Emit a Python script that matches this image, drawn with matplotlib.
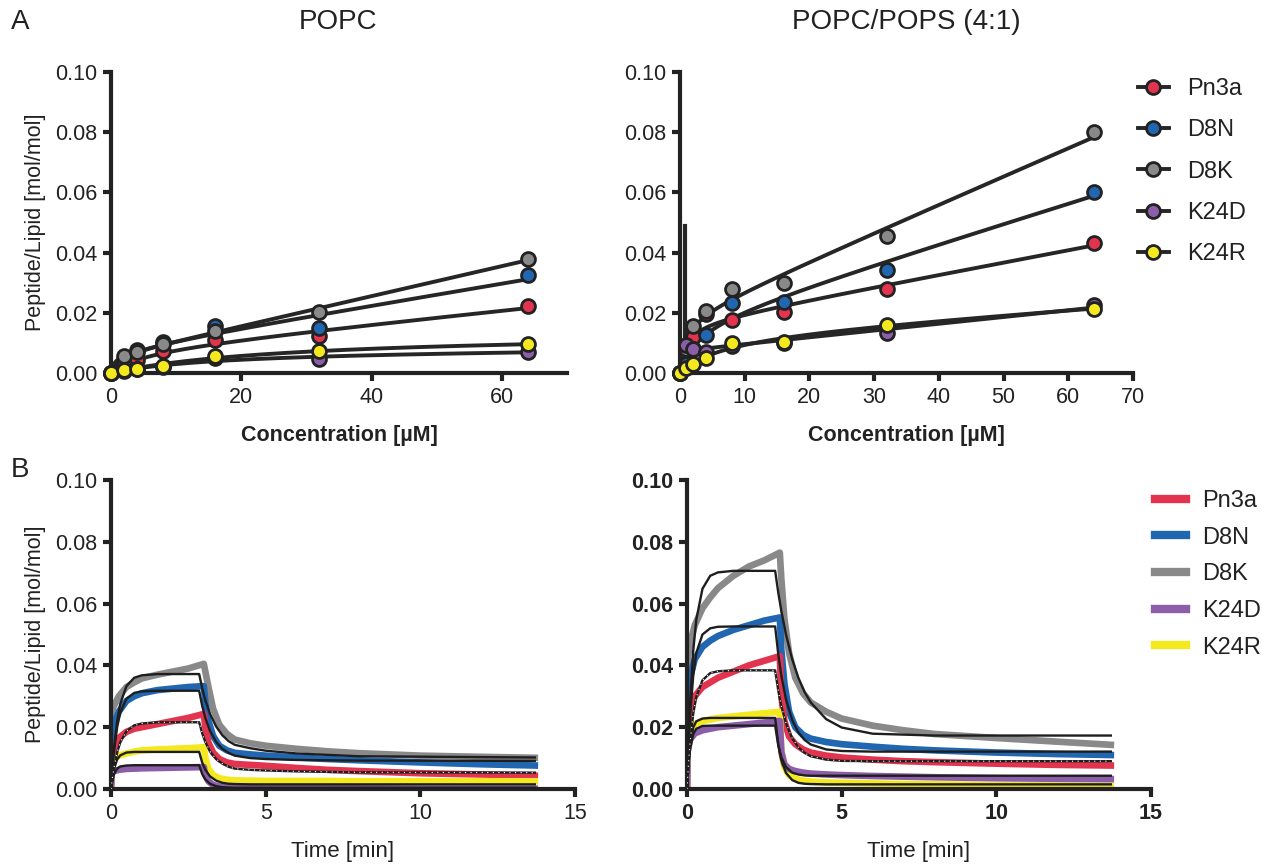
import numpy as np
import matplotlib
matplotlib.use("Agg")
import matplotlib.pyplot as plt
from matplotlib.lines import Line2D

plt.rcParams['font.family'] = ['Liberation Sans', 'DejaVu Sans']

# ---------------- data ----------------
names = ["Pn3a", "D8N", "D8K", "K24D", "K24R"]
colors = ["#E2344F", "#2166B1", "#898989", "#8C5DA8", "#F4E81E"]

# Panel A, POPC: equilibrium binding
conc_popc = [0, 2, 4, 8, 16, 32, 64]
popc_pn3a = [0.0, 0.0017, 0.0042, 0.0072, 0.0108, 0.0122, 0.0221]
popc_d8n = [0.0, 0.0030, 0.0075, 0.0103, 0.0155, 0.0149, 0.0326]
popc_d8k = [0.0, 0.0055, 0.0070, 0.0098, 0.0140, 0.0204, 0.0379]
popc_k24d = [0.0, 0.0008, 0.0014, 0.0020, 0.0050, 0.0048, 0.0070]
popc_k24r = [0.0, 0.0010, 0.0012, 0.0022, 0.0057, 0.0073, 0.0095]

# Panel A, POPC/POPS (4:1)
conc_pops = [0, 1, 2, 4, 8, 16, 32, 64]
pops_pn3a = [0.0, 0.0066, 0.0120, 0.0196, 0.0176, 0.0203, 0.0280, 0.0433]
pops_d8n = [0.0, 0.0030, 0.0080, 0.0125, 0.0231, 0.0236, 0.0341, 0.0602]
pops_d8k = [0.0, 0.0080, 0.0156, 0.0205, 0.0279, 0.0299, 0.0454, 0.0800]
pops_k24d = [0.0, 0.0093, 0.0080, 0.0070, 0.0090, 0.0100, 0.0132, 0.0227]
pops_k24r = [0.0, 0.0015, 0.0030, 0.0050, 0.0099, 0.0104, 0.0159, 0.0214]
pops_spike_conc = [0.7, 0.7]
pops_spike_pl = [0.0, 0.049]

# Panel B: kinetics (time in min)
t_data = [0, 0.02, 0.1, 0.25, 0.5, 0.75, 1.0, 1.5, 2.0, 2.5, 3.0,
          3.05, 3.15, 3.3, 3.5, 3.75, 4.0, 4.5, 5, 6, 7, 8, 10, 12, 13.7]
kin_popc_pn3a = [0.0, 0.007, 0.0135, 0.0165, 0.0185, 0.0195, 0.020, 0.021, 0.022, 0.023, 0.0243,
                 0.020, 0.015, 0.0118, 0.0097, 0.0086, 0.0081, 0.0078, 0.0075, 0.0068, 0.0062, 0.0058, 0.0051, 0.0047, 0.0043]
kin_popc_d8n = [0.010, 0.015, 0.021, 0.025, 0.0285, 0.030, 0.031, 0.032, 0.0325, 0.033, 0.0333,
                0.028, 0.022, 0.0172, 0.014, 0.0125, 0.0117, 0.0112, 0.0108, 0.0102, 0.0097, 0.0093, 0.0086, 0.0080, 0.0076]
kin_popc_d8k = [0.022, 0.025, 0.027, 0.030, 0.033, 0.0345, 0.0358, 0.037, 0.038, 0.039, 0.0405,
                0.038, 0.033, 0.026, 0.0208, 0.0178, 0.0160, 0.0148, 0.0140, 0.0130, 0.0122, 0.0116, 0.0108, 0.0104, 0.0101]
kin_popc_k24d = [0.0, 0.005, 0.0058, 0.0062, 0.0065, 0.0066, 0.0067, 0.0068, 0.0069, 0.0070, 0.0071,
                 0.0045, 0.0025, 0.0013, 0.0008, 0.0006, 0.0005, 0.0004, 0.0004, 0.0003, 0.0002, 0.0002, 0.0001, 0.0001, 0.0001]
kin_popc_k24r = [0.0, 0.007, 0.0095, 0.0108, 0.0115, 0.0121, 0.0125, 0.0128, 0.0130, 0.0132, 0.0135,
                 0.010, 0.0065, 0.0045, 0.0035, 0.0030, 0.0028, 0.0027, 0.0026, 0.0026, 0.0026, 0.0025, 0.0025, 0.0025, 0.0025]

kin_pops_pn3a = [0.0, 0.020, 0.026, 0.030, 0.033, 0.0345, 0.036, 0.038, 0.040, 0.0415, 0.043,
                 0.030, 0.022, 0.017, 0.0145, 0.0128, 0.0118, 0.0108, 0.0102, 0.0095, 0.0090, 0.0087, 0.0082, 0.0078, 0.0076]
kin_pops_d8n = [0.0, 0.028, 0.036, 0.042, 0.046, 0.048, 0.0495, 0.0515, 0.053, 0.0545, 0.0555,
                0.045, 0.034, 0.025, 0.020, 0.0175, 0.0163, 0.0152, 0.0145, 0.0137, 0.0130, 0.0125, 0.0118, 0.0113, 0.0110]
kin_pops_d8k = [0.035, 0.042, 0.047, 0.053, 0.0585, 0.062, 0.065, 0.069, 0.072, 0.074, 0.0765,
                0.068, 0.055, 0.044, 0.036, 0.031, 0.028, 0.025, 0.0228, 0.0205, 0.0190, 0.0178, 0.0165, 0.0153, 0.0143]
kin_pops_k24d = [0.0, 0.012, 0.016, 0.018, 0.019, 0.0195, 0.020, 0.0205, 0.021, 0.0215, 0.022,
                 0.012, 0.008, 0.0065, 0.0058, 0.0053, 0.0050, 0.0047, 0.0045, 0.0042, 0.0040, 0.0038, 0.0035, 0.0033, 0.0032]
kin_pops_k24r = [0.0, 0.012, 0.018, 0.021, 0.022, 0.0225, 0.023, 0.0235, 0.024, 0.0245, 0.025,
                 0.012, 0.007, 0.0045, 0.0033, 0.0027, 0.0024, 0.0021, 0.0020, 0.0018, 0.0016, 0.0015, 0.0013, 0.0011, 0.0010]

# fitted (model) curves
t_fit = [0, 0.05, 0.1, 0.2, 0.3, 0.5, 0.75, 1.0, 1.5, 2.0, 2.85,
         2.95, 3.05, 3.2, 3.4, 3.6, 3.8, 4.0, 4.5, 5.0, 6.0, 8.0, 13.7]
fit_popc_pn3a = [0, 0.0039, 0.0071, 0.0119, 0.0151, 0.0187, 0.0206, 0.0212, 0.0216, 0.0216, 0.0216,
                 0.0180, 0.0152, 0.0122, 0.0097, 0.0082, 0.0072, 0.0066, 0.0062, 0.0060, 0.0057, 0.0054, 0.0053]
fit_popc_d8n = [0, 0.0070, 0.0125, 0.0201, 0.0247, 0.0292, 0.0311, 0.0316, 0.0318, 0.0318, 0.0318,
                0.0268, 0.0230, 0.0188, 0.0152, 0.0130, 0.0117, 0.0108, 0.0100, 0.0097, 0.0094, 0.0092, 0.0091]
fit_popc_d8k = [0, 0.0075, 0.0134, 0.0221, 0.0276, 0.0333, 0.0360, 0.0368, 0.0372, 0.0372, 0.0372,
                0.0325, 0.0287, 0.0243, 0.0202, 0.0174, 0.0155, 0.0143, 0.0132, 0.0124, 0.0115, 0.0106, 0.0102]
fit_popc_k24d = [0, 0.0030, 0.0049, 0.0066, 0.0073, 0.0076, 0.0077, 0.0077, 0.0077, 0.0077, 0.0077,
                 0.0048, 0.0031, 0.0017, 0.0009, 0.0006, 0.0005, 0.0004, 0.0004, 0.0004, 0.0004, 0.0004, 0.0004]
fit_popc_k24r = [0, 0.0040, 0.0066, 0.0096, 0.0109, 0.0118, 0.0120, 0.0120, 0.0120, 0.0120, 0.0120,
                 0.0085, 0.0062, 0.0041, 0.0027, 0.0020, 0.0017, 0.0016, 0.0015, 0.0015, 0.0015, 0.0015, 0.0015]

fit_pops_pn3a = [0, 0.0085, 0.0151, 0.0243, 0.0298, 0.0352, 0.0375, 0.0381, 0.0384, 0.0384, 0.0384,
                 0.0319, 0.0268, 0.0213, 0.0164, 0.0135, 0.0117, 0.0106, 0.0095, 0.0091, 0.0090, 0.0090, 0.0090]
fit_pops_d8n = [0, 0.0136, 0.0237, 0.0365, 0.0440, 0.0500, 0.0520, 0.0525, 0.0526, 0.0526, 0.0526,
                0.0436, 0.0367, 0.0290, 0.0223, 0.0183, 0.0159, 0.0144, 0.0128, 0.0123, 0.0121, 0.0121, 0.0121]
fit_pops_d8k = [0, 0.0156, 0.0278, 0.0446, 0.0548, 0.0648, 0.0690, 0.0701, 0.0706, 0.0706, 0.0706,
                0.0636, 0.0576, 0.0500, 0.0420, 0.0360, 0.0314, 0.0280, 0.0226, 0.0199, 0.0179, 0.0173, 0.0173]
fit_pops_k24d = [0, 0.0081, 0.0130, 0.0177, 0.0195, 0.0204, 0.0205, 0.0205, 0.0205, 0.0205, 0.0205,
                 0.0141, 0.0103, 0.0071, 0.0053, 0.0047, 0.0044, 0.0043, 0.0043, 0.0043, 0.0043, 0.0043, 0.0043]
fit_pops_k24r = [0, 0.0091, 0.0145, 0.0199, 0.0219, 0.0228, 0.0230, 0.0230, 0.0230, 0.0230, 0.0230,
                 0.0145, 0.0094, 0.0052, 0.0029, 0.0020, 0.0017, 0.0016, 0.0015, 0.0015, 0.0015, 0.0015, 0.0015]

yticks = [0.0, 0.02, 0.04, 0.06, 0.08, 0.10]

# ---------------- helpers ----------------
W, H = 1262, 864
fig = plt.figure(figsize=(W / 100, H / 100), dpi=100)


def ax_at(l, r, t, b):
    return fig.add_axes([l / W, 1 - b / H, (r - l) / W, (b - t) / H])


def style(ax, bold_ticks=False):
    for s in ["top", "right"]:
        ax.spines[s].set_visible(False)
    for s in ["left", "bottom"]:
        ax.spines[s].set_linewidth(3.0)
        ax.spines[s].set_color("#222222")
    ax.tick_params(width=3.0, length=6, color="#222222", labelsize=15.5,
                   labelcolor="#222222", pad=4)
    ax.set_ylim(0, 0.10)
    ax.set_yticks(yticks)
    ax.set_yticklabels([f"{v:.2f}" for v in yticks])
    if bold_ticks:
        for lab in ax.get_xticklabels() + ax.get_yticklabels():
            lab.set_fontweight("bold")


def binding_fit(x, y, xs):
    x = np.asarray(x, float)
    y = np.asarray(y, float)
    best = None
    for K in np.logspace(-1, 3.5, 500):
        A = np.column_stack([x / (K + x), x])
        coef = np.linalg.lstsq(A, y, rcond=None)[0]
        if np.any(coef < 0):
            continue
        r = np.sum((A @ coef - y) ** 2)
        if best is None or r < best[0]:
            best = (r, K, coef)
    if best is None:
        m = np.sum(x * y) / np.sum(x * x)
        return m * xs
    _, K, c = best
    return c[0] * xs / (K + xs) + c[1] * xs


# ---------------- panel A ----------------
popc_sets = [popc_pn3a, popc_d8n, popc_d8k, popc_k24d, popc_k24r]
pops_sets = [pops_pn3a, pops_d8n, pops_d8k, pops_k24d, pops_k24r]

axA1 = ax_at(111, 567, 72, 373)
axA2 = ax_at(680, 1133, 72, 373)

for ax, conc, sets in [(axA1, conc_popc, popc_sets), (axA2, conc_pops, pops_sets)]:
    xs = np.linspace(0, max(conc), 300)
    for ys in sets:
        ax.plot(xs, binding_fit(conc, ys, xs), color="#262626", lw=2.8,
                solid_capstyle="round", zorder=2)
    order = [2, 1, 0, 3, 4]
    for i in order:
        ax.plot(conc, sets[i], ls="none", marker="o", ms=10, mfc=colors[i],
                mec="#222222", mew=2.0, clip_on=False, zorder=3 + i)
    ax.set_xlim(0, 70)
    style(ax)

axA2.plot(pops_spike_conc, pops_spike_pl, color="#262626", lw=3.0, zorder=2)

axA1.set_xticks([0, 20, 40, 60])
axA2.set_xticks([0, 10, 20, 30, 40, 50, 60, 70])
axA1.set_xlabel("Concentration [µM]", fontsize=15.5, fontweight="bold",
                color="#222222", labelpad=12)
axA2.set_xlabel("Concentration [µM]", fontsize=15.5, fontweight="bold",
                color="#222222", labelpad=12)
axA1.set_ylabel("Peptide/Lipid [mol/mol]", fontsize=15.5, color="#222222", labelpad=6)

fig.text(338 / W, 1 - 22 / H, "POPC", fontsize=20, ha="center", va="center", color="#222222")
fig.text(906 / W, 1 - 22 / H, "POPC/POPS (4:1)", fontsize=20, ha="center", va="center", color="#222222")
fig.text(20 / W, 1 - 22 / H, "A", fontsize=20, ha="center", va="center", color="#222222")
fig.text(20 / W, 1 - 470 / H, "B", fontsize=20, ha="center", va="center", color="#222222")

hA = [Line2D([0], [0], color="#262626", lw=2.8, marker="o", ms=10, mfc=c,
             mec="#222222", mew=2.0) for c in colors]
legA = fig.legend(hA, names, loc="upper left", bbox_to_anchor=(1138 / W, 1 - 78 / H),
                  frameon=False, fontsize=17, handlelength=1.3, handletextpad=0.8,
                  labelspacing=0.82, borderpad=0, borderaxespad=0)
for t in legA.get_texts():
    t.set_color("#222222")

# ---------------- panel B ----------------
kin_popc = [kin_popc_pn3a, kin_popc_d8n, kin_popc_d8k, kin_popc_k24d, kin_popc_k24r]
kin_pops = [kin_pops_pn3a, kin_pops_d8n, kin_pops_d8k, kin_pops_k24d, kin_pops_k24r]
fit_popc = [fit_popc_pn3a, fit_popc_d8n, fit_popc_d8k, fit_popc_k24d, fit_popc_k24r]
fit_pops = [fit_pops_pn3a, fit_pops_d8n, fit_pops_d8k, fit_pops_k24d, fit_pops_k24r]

axB1 = ax_at(111, 575, 480, 789)
axB2 = ax_at(687, 1151, 480, 789)

for ax, kin, fits, bold in [(axB1, kin_popc, fit_popc, False), (axB2, kin_pops, fit_pops, True)]:
    for i in [2, 1, 0, 4, 3]:
        ax.plot(t_data, kin[i], color=colors[i], lw=4.8, solid_joinstyle="round", zorder=2)
    for i in [2, 1, 0, 4, 3]:
        ax.plot(t_fit, fits[i], color="#1E1E1E", lw=1.7, zorder=4)
    ax.plot(t_fit, fits[0], color="white", lw=0.8, ls=(0, (1, 4)), zorder=5)
    ax.set_xlim(0, 15)
    ax.set_xticks([0, 5, 10, 15])
    ax.set_xlabel("Time [min]", fontsize=16, color="#222222", labelpad=12)
    style(ax, bold_ticks=bold)

axB1.set_ylabel("Peptide/Lipid [mol/mol]", fontsize=15.5, color="#222222", labelpad=6)

hB = [Line2D([0], [0], color=c, lw=6) for c in colors]
legB = fig.legend(hB, names, loc="upper left", bbox_to_anchor=(1155 / W, 1 - 490 / H),
                  frameon=False, fontsize=17, handlelength=1.3, handletextpad=0.7,
                  labelspacing=0.62, borderpad=0, borderaxespad=0)
for t in legB.get_texts():
    t.set_color("#222222")

fig.savefig("out.png", dpi=100)
